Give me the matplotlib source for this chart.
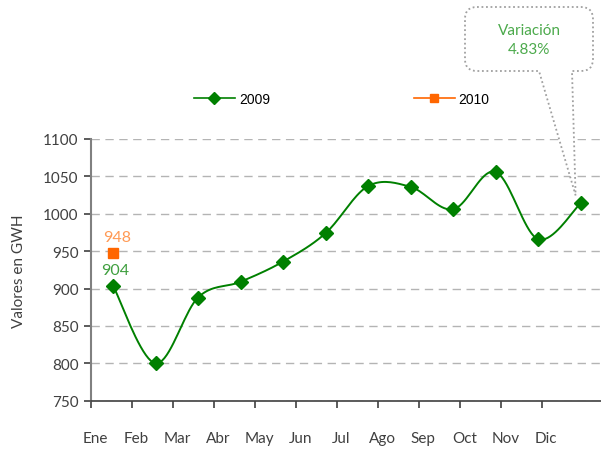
import numpy as np
import matplotlib
matplotlib.use('Agg')
from matplotlib import pyplot as plt
from matplotlib.path import Path
from matplotlib.patches import PathPatch

# datos
meses = ['Ene', 'Feb', 'Mar', 'Abr', 'May', 'Jun', 'Jul', 'Ago', 'Sep', 'Oct', 'Nov', 'Dic']
v2009 = [904, 800, 888, 909, 936, 974, 1037, 1036, 1006, 1056, 966, 1014]
v2010 = [948]
variacion = '4.83%'

verde = '#008000'
naranja = '#ff6600'
gris_txt = '#404040'


def suavizar(y, n=20):
    # curva suavizada tipo Excel (Bezier / Catmull-Rom)
    x = np.arange(len(y), dtype=float)
    y = np.asarray(y, dtype=float)
    px, py = [], []
    for i in range(len(y) - 1):
        i0 = max(i - 1, 0)
        i3 = min(i + 2, len(y) - 1)
        c1x = x[i] + (x[i + 1] - x[i0]) / 6
        c1y = y[i] + (y[i + 1] - y[i0]) / 6
        c2x = x[i + 1] - (x[i3] - x[i]) / 6
        c2y = y[i + 1] - (y[i3] - y[i]) / 6
        t = np.linspace(0, 1, n)
        px.extend((1-t)**3*x[i] + 3*(1-t)**2*t*c1x + 3*(1-t)*t**2*c2x + t**3*x[i+1])
        py.extend((1-t)**3*y[i] + 3*(1-t)**2*t*c1y + 3*(1-t)*t**2*c2y + t**3*y[i+1])
    return px, py


fig = plt.figure(figsize=(6.01, 4.52), dpi=100)
ax = fig.add_axes([91/601, 50.3/452, 510/601, 261.7/452])

ax.set_ylim(750, 1100)
ax.set_xlim(-0.518, 11.48)
ax.set_yticks(np.arange(750, 1101, 50))
ax.yaxis.grid(True, linestyle=(0, (6, 4)), color='#b4b4b4', linewidth=1)
ax.set_axisbelow(True)

sx, sy = suavizar(v2009)
ax.plot(sx, sy, '-', color=verde, linewidth=1.4, zorder=3)
ax.plot(range(len(v2009)), v2009, 'D', color=verde, markersize=7, zorder=4)
ax.plot(range(len(v2010)), v2010, 's', color=naranja, markersize=7, zorder=4)

# entradas de leyenda
l1, = ax.plot([], [], '-D', color=verde, markersize=6, linewidth=1.2, label='2009')
l2, = ax.plot([], [], '-s', color=naranja, markersize=6, linewidth=1.2, label='2010')
fig.legend(handles=[l1, l2], loc='center', bbox_to_anchor=(342/601, 1 - 100/452),
           ncol=2, frameon=False, columnspacing=10.4, handlelength=2.9,
           handletextpad=0.3, prop={'family': 'Liberation Sans', 'size': 10})

ax.annotate(str(v2010[0]), (0, v2010[0]), xytext=(3, 11.5), textcoords='offset points',
            ha='center', va='center', color='#ff9a55', fontsize=11.5, family='Lato')
ax.annotate(str(v2009[0]), (0, v2009[0]), xytext=(1.5, 11.5), textcoords='offset points',
            ha='center', va='center', color='#3f9f3f', fontsize=11.5, family='Lato')

# ejes
for s in ['top', 'right']:
    ax.spines[s].set_visible(False)
ax.spines['left'].set_color('#808080')
ax.spines['left'].set_linewidth(1.5)
ax.spines['bottom'].set_color('#404040')
ax.spines['bottom'].set_linewidth(1.2)

paso = 41 / 42.5
marcas = np.arange(12) * paso - 0.518
ax.set_xticks(marcas)
ax.set_xticklabels([])
ax.set_xticks(marcas + 0.1, minor=True)
ax.set_xticklabels(meses, minor=True)
ax.tick_params(axis='x', which='major', direction='out', length=5, color='#404040', width=1.2)
ax.tick_params(axis='x', which='minor', length=0, pad=22, labelsize=11, labelcolor=gris_txt)
ax.tick_params(axis='y', direction='out', length=5, color='#404040', width=1.2,
               labelsize=11, labelcolor=gris_txt, pad=4)
for lab in ax.get_xticklabels(minor=True) + ax.get_yticklabels():
    lab.set_family('Lato')
ax.set_ylabel('Valores en GWH', fontsize=11, color=gris_txt, family='Lato', labelpad=12)

# globo de variacion
ov = fig.add_axes([0, 0, 1, 1], facecolor='none')
ov.set_xlim(0, 601)
ov.set_ylim(452, 0)
ov.axis('off')
fig.canvas.draw()
px = ax.transData.transform((11, v2009[-1]))
tx, ty = ov.transData.inverted().transform(px)
tx, ty = tx - 5, ty - 8
x0, x1, y0, y1, r = 465, 593, 8, 72, 12
verts = [(x0 + r, y0), (x1 - r, y0), (x1, y0), (x1, y0 + r), (x1, y1 - r), (x1, y1),
         (x1 - r, y1), (572, y1), (tx, ty), (539, y1), (x0 + r, y1), (x0, y1),
         (x0, y1 - r), (x0, y0 + r), (x0, y0), (x0 + r, y0)]
codes = [Path.MOVETO, Path.LINETO, Path.CURVE3, Path.CURVE3, Path.LINETO, Path.CURVE3,
         Path.CURVE3, Path.LINETO, Path.LINETO, Path.LINETO, Path.LINETO, Path.CURVE3,
         Path.CURVE3, Path.LINETO, Path.CURVE3, Path.CURVE3]
ov.add_patch(PathPatch(Path(verts, codes), facecolor='white', edgecolor='#a0a0a0',
                       linestyle=(0, (1, 1.5)), linewidth=1.3, zorder=5))
ov.text(529, 31, 'Variación', ha='center', va='center', color='#4caa4c',
        fontsize=11, family='Lato', zorder=6)
ov.text(529, 50, variacion, ha='center', va='center', color='#4caa4c',
        fontsize=11, family='Lato', zorder=6)

fig.savefig('out.png', dpi=100)
